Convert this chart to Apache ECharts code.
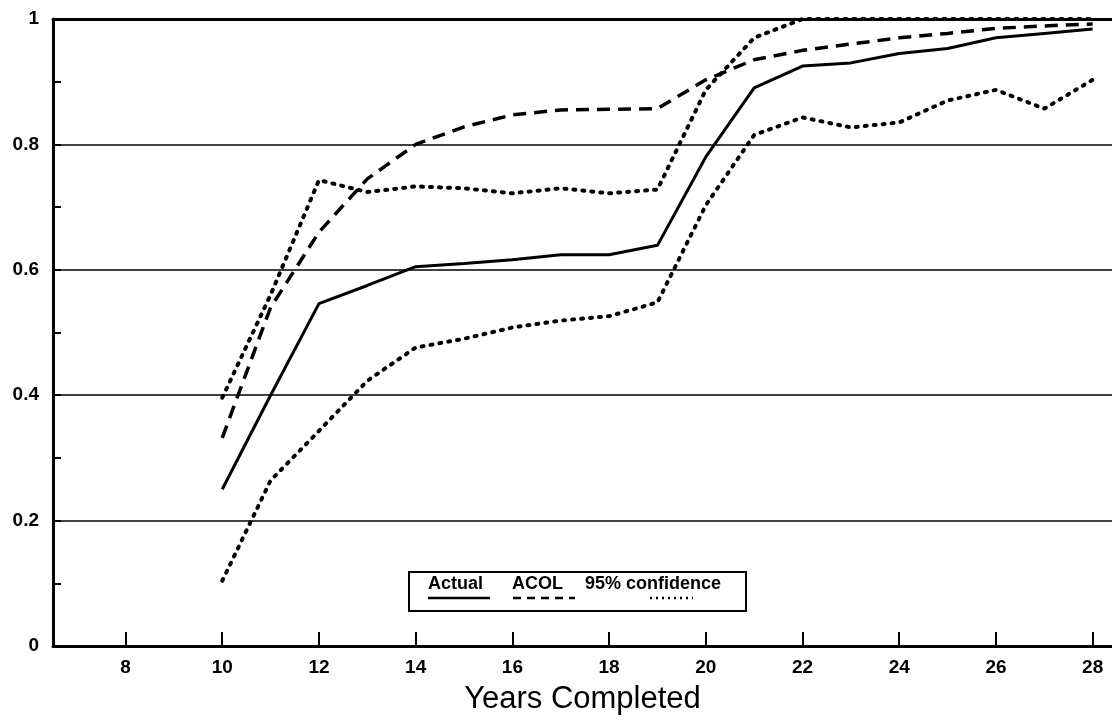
<!DOCTYPE html>
<html>
<head>
<meta charset="utf-8">
<script src="https://cdn.jsdelivr.net/npm/echarts@6/dist/echarts.min.js"></script>
<style>
html,body{margin:0;padding:0;background:#fff;}
#main{width:1112px;height:724px;}
</style>
</head>
<body>
<div id="main"></div>
<script>
// years on the x axis
var years = [10,11,12,13,14,15,16,17,18,19,20,21,22,23,24,25,26,27,28];
var actual = [0.25,0.40,0.546,0.575,0.605,0.61,0.616,0.624,0.624,0.639,0.78,0.89,0.925,0.93,0.945,0.953,0.97,0.977,0.984];
var acol   = [0.332,0.54,0.66,0.745,0.80,0.828,0.847,0.855,0.856,0.857,0.903,0.935,0.95,0.96,0.97,0.977,0.985,0.989,0.992];
var upper  = [0.396,0.56,0.743,0.724,0.733,0.73,0.722,0.73,0.722,0.728,0.887,0.97,1,1,1,1,1,1,1];
var lower  = [0.104,0.264,0.343,0.423,0.476,0.49,0.508,0.519,0.526,0.548,0.703,0.815,0.843,0.827,0.835,0.87,0.887,0.857,0.903];
var xTicks = [8,10,12,14,16,18,20,22,24,26,28];
var legendNames = ['Actual','ACOL','95% confidence'];

function pairs(vals){
    var out=[];
    for(var i=0,len=years.length;i<len;i++){ out.push([years[i],vals[i]]); }
    return out;
}

var font = 'Liberation Sans, Arial, sans-serif';
var chart = echarts.init(document.getElementById('main'));
var option = {
    backgroundColor: '#fff',
    animation: false,
    grid: {left:53, right:0, top:19, bottom:78},
    xAxis: [{
        type: 'value',
        min: 6.5,
        max: 28.4,
        name: 'Years Completed',
        nameLocation: 'middle',
        nameGap: 38,
        nameTextStyle: {fontFamily: font, fontSize: 31, color: '#000'},
        axisLine: {show:true, onZero:false, lineStyle:{color:'#000', width:3}},
        axisTick: {show:true, inside:true, length:14, lineStyle:{color:'#000', width:2}, customValues: xTicks},
        axisLabel: {customValues: xTicks, color:'#000', fontFamily: font, fontWeight:'bold', fontSize:19, margin:12},
        splitLine: {show:false}
    },{
        type: 'value',
        position: 'top',
        min: 6.5,
        max: 28.4,
        axisLine: {show:true, onZero:false, lineStyle:{color:'#000', width:3}},
        axisTick: {show:false},
        axisLabel: {show:false},
        splitLine: {show:false}
    }],
    yAxis: {
        type: 'value',
        min: 0,
        max: 1,
        interval: 0.2,
        axisLine: {show:true, lineStyle:{color:'#000', width:3}},
        axisTick: {show:true, inside:true, length:8, lineStyle:{color:'#000', width:2}},
        minorTick: {show:true, splitNumber:2, length:8, lineStyle:{color:'#000', width:2}},
        axisLabel: {color:'#000', fontFamily: font, fontWeight:'bold', fontSize:19, margin:14},
        splitLine: {show:true, lineStyle:{color:'#000', width:1.5}}
    },
    series: [{
        name: 'Actual', type:'line', data: pairs(actual), symbol:'none',
        lineStyle:{color:'#000', width:3}
    },{
        name: 'ACOL', type:'line', data: pairs(acol), symbol:'none',
        lineStyle:{color:'#000', width:3.5, type:[13,8]}
    },{
        name: 'upper', type:'line', data: pairs(upper), symbol:'none',
        lineStyle:{color:'#000', width:4, type:[2,7], cap:'round'}
    },{
        name: 'lower', type:'line', data: pairs(lower), symbol:'none',
        lineStyle:{color:'#000', width:4, type:[2,7], cap:'round'}
    }],
    graphic: [{
        type: 'rect', left: 408, top: 571,
        shape: {width: 337, height: 39},
        style: {fill:'#fff', stroke:'#000', lineWidth:2}
    },{
        type: 'text', left: 428, top: 575,
        style: {text: legendNames[0], font: 'bold 18px ' + font, fill:'#000'}
    },{
        type: 'text', left: 512, top: 575,
        style: {text: legendNames[1], font: 'bold 18px ' + font, fill:'#000'}
    },{
        type: 'text', left: 585, top: 575,
        style: {text: legendNames[2], font: 'bold 18px ' + font, fill:'#000'}
    },{
        type: 'line', shape: {x1:428, y1:598, x2:490, y2:598},
        style: {stroke:'#000', lineWidth:2.5}
    },{
        type: 'line', shape: {x1:513, y1:598, x2:575, y2:598},
        style: {stroke:'#000', lineWidth:2.5, lineDash:[8,6]}
    },{
        type: 'line', shape: {x1:650, y1:598, x2:693, y2:598},
        style: {stroke:'#000', lineWidth:2.5, lineDash:[2,4]}
    }]
};
chart.setOption(option);
window.onresize = function(){ chart.resize(); };
</script>
</body>
</html>
